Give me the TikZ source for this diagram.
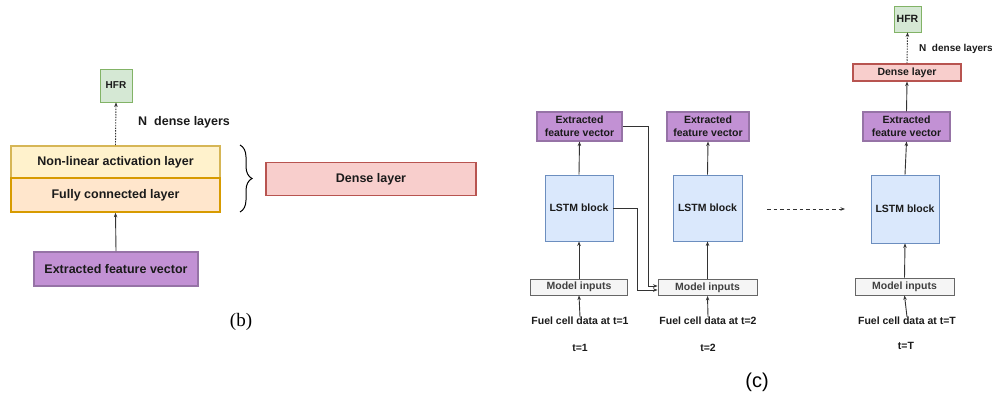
\documentclass[tikz,border=0pt]{standalone}
\usepackage{fontspec}
\setsansfont{Liberation Sans}
\newfontfamily\labelserif{Liberation Serif}
\usetikzlibrary{arrows.meta,decorations.pathreplacing,calc}

\definecolor{purpfill}{HTML}{C291D4}
\definecolor{purpline}{HTML}{9673A6}
\definecolor{bluefill}{HTML}{DAE8FC}
\definecolor{blueline}{HTML}{6C8EBF}
\definecolor{grayfill}{HTML}{F5F5F5}
\definecolor{grayline}{HTML}{666666}
\definecolor{redfill}{HTML}{F8CECC}
\definecolor{redline}{HTML}{B85450}
\definecolor{greenfill}{HTML}{D5E8D4}
\definecolor{greenline}{HTML}{82B366}
\definecolor{yelfill}{HTML}{FFF2CC}
\definecolor{yelline}{HTML}{D6B656}
\definecolor{orafill}{HTML}{FFE6CC}
\definecolor{oraline}{HTML}{D79B00}
\definecolor{txt}{HTML}{1A1A1A}

\tikzset{
  box/.style={draw, rectangle, inner sep=0pt, align=center, text=txt,
    font=\sffamily\bfseries\fontsize{10.5}{12.7}\selectfont},
  bigbox/.style={box, line width=1.6pt, font=\sffamily\bfseries\fontsize{12.5}{15}\selectfont},
  featbox/.style={box, fill=purpfill, draw=purpline, line width=1.1pt},
  lstmbox/.style={box, fill=bluefill, draw=blueline, line width=0.9pt},
  inbox/.style={box, fill=grayfill, draw=grayline, line width=0.9pt, text=black!75},
  densebox/.style={box, fill=redfill, draw=redline, line width=1.1pt},
  hfrbox/.style={box, fill=greenfill, draw=greenline, line width=0.8pt},
  lbl/.style={inner sep=0pt, text=txt, font=\sffamily\bfseries\fontsize{10.5}{12.7}\selectfont},
  biglbl/.style={inner sep=0pt, text=txt, font=\sffamily\bfseries\fontsize{12.5}{15}\selectfont},
  arr/.style={draw=black!80, line width=0.9pt, -{Stealth[length=4.5pt,width=3.5pt]}},
  dasharr/.style={arr, dash pattern=on 1.5pt off 1.2pt},
  longdash/.style={arr, dash pattern=on 3.5pt off 3pt},
}

\begin{document}
\begin{tikzpicture}[x=1pt, y=-1pt]
\useasboundingbox (0,0) rectangle (992,398);

% ---------- (b): one dense layer ----------
\node[hfrbox, minimum width=32pt, minimum height=33pt,
      font=\sffamily\bfseries\fontsize{10}{12}\selectfont] (hfrL) at (116,85.5) {HFR};
\node[biglbl, anchor=west] (ndenseL) at (138,122) {N\ \ dense layers};
\node[bigbox, fill=yelfill, draw=yelline, minimum width=209pt, minimum height=32pt] (nla) at (115.5,162) {Non-linear activation layer};
\node[bigbox, fill=orafill, draw=oraline, minimum width=209pt, minimum height=34pt] (fcl) at (115.5,195) {Fully connected layer};
\node[featbox, line width=1.6pt, minimum width=164pt, minimum height=34pt,
      font=\sffamily\bfseries\fontsize{12.5}{15}\selectfont] (efvL) at (116,269) {Extracted feature vector};
\node[densebox, line width=1.6pt, minimum width=210pt, minimum height=33pt,
      font=\sffamily\bfseries\fontsize{12.5}{15}\selectfont] (denseL) at (371,179) {Dense layer};

\coordinate (braceTop) at (240,145);
\coordinate (braceBot) at (240,212);
\draw[line width=1pt, decorate, decoration={brace, amplitude=12pt}] (braceTop) -- (braceBot);

\draw[dasharr] (nla.north) -- (hfrL.south);
\draw[arr] (efvL.north) -- (fcl.south);

\node[inner sep=0pt, font=\labelserif\fontsize{19}{21}\selectfont] (labb) at (241,322) {(b)};

% ---------- (c): unrolled LSTM ----------
% time step 1
\node[featbox, minimum width=85pt, minimum height=29pt] (efv1) at (579.5,126.5) {Extracted\\feature vector};
\node[lstmbox, minimum width=68pt, minimum height=66pt] (lstm1) at (579,208) {LSTM block};
\node[inbox, minimum width=97pt, minimum height=16pt] (mi1) at (579,287) {Model inputs};
\node[lbl] (fuel1) at (580,321) {Fuel cell data at t=1};
\node[lbl] (t1) at (580,348) {t=1};

% time step 2
\node[featbox, minimum width=82pt, minimum height=29pt] (efv2) at (708,126.5) {Extracted\\feature vector};
\node[lstmbox, minimum width=69pt, minimum height=66pt] (lstm2) at (707.5,208) {LSTM block};
\node[inbox, minimum width=99pt, minimum height=16pt] (mi2) at (707.5,287.5) {Model inputs};
\node[lbl] (fuel2) at (708,321) {Fuel cell data at t=2};
\node[lbl] (t2) at (708,348) {t=2};

% time step T
\node[hfrbox, minimum width=27pt, minimum height=26pt] (hfr3) at (907.5,19) {HFR};
\node[lbl, anchor=west, font=\sffamily\bfseries\fontsize{10}{12}\selectfont] (ndense3) at (919,49) {N\ \ dense layers};
\node[densebox, minimum width=108pt, minimum height=17pt] (dense3) at (907,72.5) {Dense layer};
\node[featbox, minimum width=87pt, minimum height=29pt] (efv3) at (906.5,126.5) {Extracted\\feature vector};
\node[lstmbox, minimum width=68pt, minimum height=68pt] (lstm3) at (905,209) {LSTM block};
\node[inbox, minimum width=99pt, minimum height=17pt] (mi3) at (904.5,286.5) {Model inputs};
\node[lbl] (fuel3) at (907,321) {Fuel cell data at t=T};
\node[lbl] (tT) at (906,346) {t=T};

% vertical flow inside each step
\foreach \i in {1,2,3}{
  \draw[arr] (fuel\i.north) -- (mi\i.south);
  \draw[arr] (mi\i.north) -- (lstm\i.south);
  \draw[arr] (lstm\i.north) -- (efv\i.south);
}
\draw[arr] (efv3.north) -- (dense3.south);
\draw[dasharr] (dense3.north) -- (hfr3.south);

% states handed to the next step
\draw[arr] (efv1.east) -- ++(26,0) |- ([yshift=1.5pt]mi2.west);
\draw[arr] (lstm1.east) -- ++(24,0) |- ([yshift=-2.5pt]mi2.west);

% remaining steps
\coordinate (skipA) at (767,209);
\coordinate (skipB) at (845,209);
\draw[longdash] (skipA) -- (skipB);

\node[inner sep=0pt, font=\sffamily\fontsize{20}{22}\selectfont] (labc) at (757,382) {(c)};
\end{tikzpicture}
\end{document}
